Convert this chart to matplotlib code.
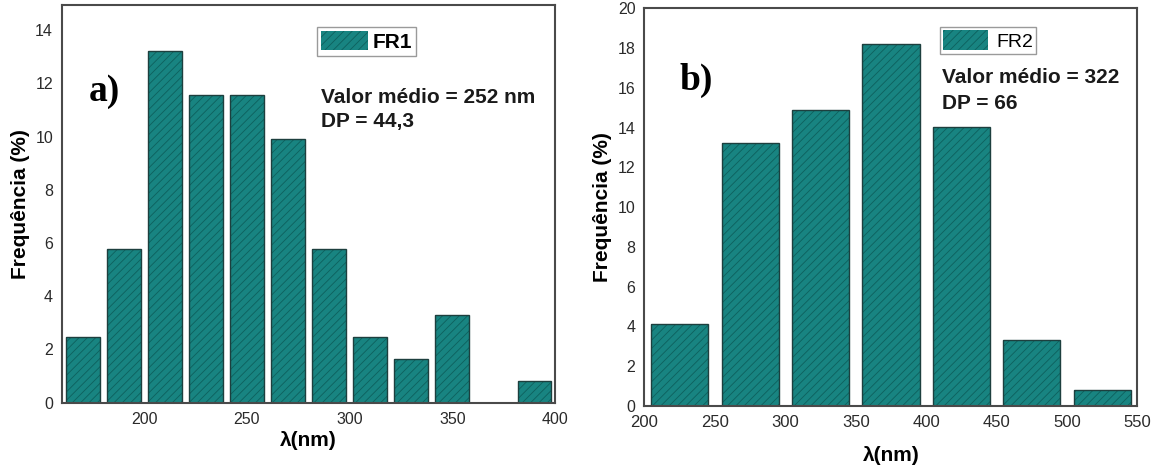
import matplotlib
matplotlib.use("Agg")
import matplotlib.pyplot as plt

plt.rcParams['font.family'] = ['Liberation Sans', 'DejaVu Sans']

# Panel a) FR1
fr1_centers = [170, 190, 210, 230, 250, 270, 290, 310, 330, 350, 370, 390]
fr1_freq = [2.48, 5.79, 13.22, 11.57, 11.57, 9.92, 5.79, 2.48, 1.65, 3.31, 0.0, 0.83]
fr1_xticks = [200, 250, 300, 350, 400]
fr1_yticks = [0, 2, 4, 6, 8, 10, 12, 14]

# Panel b) FR2
fr2_centers = [225, 275, 325, 375, 425, 475, 525]
fr2_freq = [4.13, 13.22, 14.88, 18.18, 14.05, 3.31, 0.83]
fr2_xticks = [200, 250, 300, 350, 400, 450, 500, 550]
fr2_yticks = [0, 2, 4, 6, 8, 10, 12, 14, 16, 18, 20]

FACE = '#188481'
HATCH = '#0e605d'
EDGE = '#1d3f3e'
FRAME = '#4a4a4a'

plt.rcParams['hatch.linewidth'] = 0.6

fig = plt.figure(figsize=(11.6, 4.72), dpi=100)
ax1 = fig.add_axes([0.0535, 0.1468, 0.425, 0.8426])
ax2 = fig.add_axes([0.5556, 0.1398, 0.425, 0.8426])


def style(ax, xsize, ysize, xpad, labelpad_x):
    for s in ax.spines.values():
        s.set_color(FRAME)
        s.set_linewidth(1.5)
    ax.tick_params(length=0, colors='#2a2a2a')
    ax.tick_params(axis='y', pad=6.5, labelsize=ysize)
    ax.tick_params(axis='x', pad=xpad, labelsize=xsize)
    ax.set_ylabel('Frequência (%)', fontsize=15, fontweight='bold', labelpad=4)
    ax.set_xlabel('λ(nm)', fontsize=15, fontweight='bold', labelpad=labelpad_x)


# ---- panel a
b1 = ax1.bar(fr1_centers, fr1_freq, width=16.5, color=FACE,
             edgecolor=HATCH, hatch='////', linewidth=0, label='FR1')
ax1.bar(fr1_centers, fr1_freq, width=16.5, fill=False,
        edgecolor=EDGE, linewidth=1.0)
ax1.set_xlim(160, 400)
ax1.set_ylim(0, 14.94)
ax1.set_xticks(fr1_xticks)
ax1.set_yticks(fr1_yticks)
style(ax1, 11.5, 11.5, 6.5, 3)
leg1 = ax1.legend(handles=[b1], loc='upper left', bbox_to_anchor=(0.5166, 0.944),
                  borderaxespad=0, fancybox=False, framealpha=1, edgecolor='#9a9a9a',
                  handlelength=2.26, handleheight=1.0, borderpad=0.2,
                  handletextpad=0.2, prop={'size': 15, 'weight': 'bold'})
leg1.get_frame().set_linewidth(1.0)
ax1.text(0.5248, 0.7543, 'Valor médio = 252 nm', transform=ax1.transAxes,
         fontsize=15, fontweight='bold', va='baseline', color='#1a1a1a')
ax1.text(0.5248, 0.6925, 'DP = 44,3', transform=ax1.transAxes,
         fontsize=15, fontweight='bold', va='baseline', color='#1a1a1a')
ax1.text(0.0533, 0.7586, 'a)', transform=ax1.transAxes, fontsize=27,
         fontweight='bold', family='Liberation Serif', va='baseline')

# ---- panel b
b2 = ax2.bar(fr2_centers, fr2_freq, width=40.5, color=FACE,
             edgecolor=HATCH, hatch='////', linewidth=0, label='FR2')
ax2.bar(fr2_centers, fr2_freq, width=40.5, fill=False,
        edgecolor=EDGE, linewidth=1.0)
ax2.set_xlim(200, 550)
ax2.set_ylim(0, 20)
ax2.set_xticks(fr2_xticks)
ax2.set_yticks(fr2_yticks)
style(ax2, 12, 11.5, 6.5, 11.5)
leg2 = ax2.legend(handles=[b2], loc='upper left', bbox_to_anchor=(0.5994, 0.952),
                  borderaxespad=0, fancybox=False, framealpha=1, edgecolor='#9a9a9a',
                  handlelength=2.3, handleheight=1.17, borderpad=0.15,
                  handletextpad=0.45, prop={'size': 14})
leg2.get_frame().set_linewidth(1.0)
ax2.text(0.6028, 0.8116, 'Valor médio = 322', transform=ax2.transAxes,
         fontsize=15, fontweight='bold', va='baseline', color='#1a1a1a')
ax2.text(0.6028, 0.7462, 'DP = 66', transform=ax2.transAxes,
         fontsize=15, fontweight='bold', va='baseline', color='#1a1a1a')
ax2.text(0.072, 0.7947, 'b)', transform=ax2.transAxes, fontsize=27,
         fontweight='bold', family='Liberation Serif', va='baseline')

fig.savefig('out.png', dpi=100)
